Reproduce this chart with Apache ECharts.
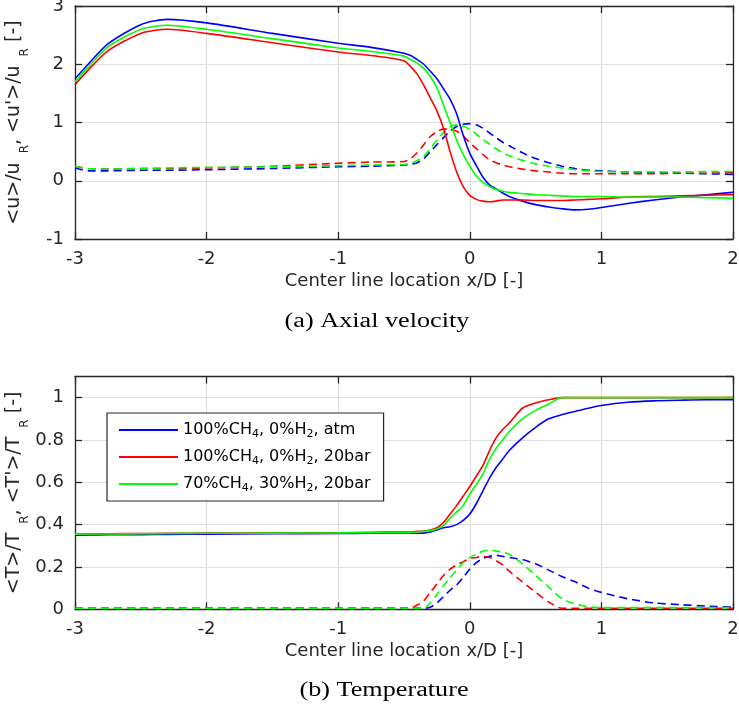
<!DOCTYPE html>
<html>
<head>
<meta charset="utf-8">
<script src="https://cdn.jsdelivr.net/npm/echarts@6/dist/echarts.min.js"></script>
<style>
  html, body { margin: 0; padding: 0; background: #fff; }
  #main { width: 739px; height: 712px; }
</style>
</head>
<body>
<div id="main"></div>
<script>
// x/D positions shared by all curves
const xs = [-3, -2.9, -2.75, -2.5, -2.3, -2, -1.5, -1, -0.75, -0.5, -0.45, -0.4, -0.35, -0.3, -0.25, -0.2, -0.15, -0.1, -0.05, 0,
    0.05, 0.1, 0.15, 0.2, 0.25, 0.3, 0.4, 0.5, 0.6, 0.7, 0.8, 0.9, 1.0, 1.2, 1.4, 1.6, 1.8, 2.0];

// (a) axial velocity, mean <u>/uR
const uMeanAtm = [1.75, 2.0, 2.35, 2.68, 2.77, 2.71, 2.53, 2.36, 2.29, 2.19, 2.15, 2.08, 2.0, 1.88, 1.75, 1.58, 1.40, 1.15, 0.78, 0.47,
    0.26, 0.06, -0.07, -0.14, -0.21, -0.27, -0.35, -0.41, -0.45, -0.48, -0.5, -0.49, -0.46, -0.39, -0.33, -0.28, -0.24, -0.2];
const uMean20 = [1.65, 1.9, 2.23, 2.53, 2.60, 2.53, 2.37, 2.21, 2.15, 2.06, 1.96, 1.83, 1.64, 1.42, 1.2, 0.9, 0.5, 0.15, -0.1, -0.25,
    -0.32, -0.35, -0.36, -0.35, -0.33, -0.33, -0.33, -0.34, -0.34, -0.34, -0.33, -0.32, -0.31, -0.28, -0.27, -0.26, -0.25, -0.24];
const uMeanH2 = [1.70, 1.95, 2.3, 2.6, 2.67, 2.6, 2.44, 2.28, 2.22, 2.14, 2.08, 2.02, 1.93, 1.79, 1.6, 1.3, 1.0, 0.7, 0.45, 0.25,
    0.08, -0.03, -0.1, -0.15, -0.18, -0.2, -0.22, -0.24, -0.25, -0.26, -0.27, -0.27, -0.27, -0.28, -0.28, -0.28, -0.29, -0.3];

// (a) axial velocity, rms <u'>/uR
const uRmsAtm = [0.22, 0.17, 0.17, 0.18, 0.18, 0.19, 0.21, 0.24, 0.25, 0.27, 0.28, 0.31, 0.38, 0.5, 0.62, 0.74, 0.85, 0.93, 0.97, 0.98,
    0.96, 0.9, 0.82, 0.74, 0.66, 0.6, 0.48, 0.38, 0.31, 0.25, 0.21, 0.18, 0.17, 0.15, 0.14, 0.13, 0.12, 0.11];
const uRms20 = [0.25, 0.21, 0.2, 0.21, 0.21, 0.22, 0.25, 0.3, 0.32, 0.33, 0.38, 0.48, 0.62, 0.76, 0.84, 0.89, 0.88, 0.85, 0.77, 0.65,
    0.55, 0.45, 0.36, 0.31, 0.27, 0.24, 0.2, 0.17, 0.15, 0.13, 0.12, 0.12, 0.12, 0.12, 0.12, 0.13, 0.13, 0.14];
const uRmsH2 = [0.25, 0.21, 0.2, 0.21, 0.22, 0.23, 0.24, 0.26, 0.27, 0.28, 0.3, 0.35, 0.42, 0.55, 0.7, 0.83, 0.93, 0.96, 0.94, 0.88,
    0.8, 0.71, 0.63, 0.55, 0.48, 0.43, 0.35, 0.29, 0.25, 0.22, 0.19, 0.17, 0.16, 0.15, 0.15, 0.15, 0.16, 0.16];

// (b) temperature, mean <T>/TR
const tMeanAtm = [0.35, 0.351, 0.352, 0.353, 0.354, 0.355, 0.357, 0.358, 0.359, 0.36, 0.36, 0.36, 0.36, 0.365, 0.375, 0.385, 0.39, 0.40, 0.42, 0.45,
    0.5, 0.56, 0.62, 0.67, 0.71, 0.75, 0.81, 0.86, 0.9, 0.92, 0.935, 0.95, 0.963, 0.978, 0.985, 0.988, 0.99, 0.99];
const tMean20 = [0.355, 0.356, 0.357, 0.358, 0.359, 0.36, 0.361, 0.362, 0.364, 0.365, 0.365, 0.368, 0.37, 0.375, 0.385, 0.41, 0.45, 0.49, 0.535, 0.58,
    0.63, 0.68, 0.75, 0.81, 0.85, 0.88, 0.95, 0.975, 0.99, 1.0, 1.0, 1.0, 1.0, 1.0, 1.0, 1.0, 1.0, 1.0];
const tMeanH2 = [0.355, 0.356, 0.356, 0.357, 0.358, 0.359, 0.36, 0.361, 0.362, 0.362, 0.363, 0.365, 0.368, 0.372, 0.38, 0.395, 0.43, 0.46, 0.49, 0.545,
    0.59, 0.64, 0.71, 0.76, 0.8, 0.84, 0.9, 0.94, 0.97, 1.0, 1.0, 1.0, 1.0, 1.0, 1.0, 1.0, 1.0, 1.0];

// (b) temperature, rms <T'>/TR
const tRmsAtm = [0.005, 0.005, 0.005, 0.005, 0.005, 0.005, 0.005, 0.005, 0.005, 0.005, 0.005, 0.005, 0.005, 0.01, 0.03, 0.06, 0.09, 0.115, 0.15, 0.19,
    0.22, 0.24, 0.25, 0.255, 0.25, 0.245, 0.235, 0.215, 0.185, 0.155, 0.13, 0.1, 0.08, 0.05, 0.03, 0.022, 0.015, 0.01];
const tRms20 = [0.005, 0.005, 0.005, 0.005, 0.005, 0.005, 0.005, 0.005, 0.005, 0.005, 0.005, 0.02, 0.04, 0.08, 0.12, 0.16, 0.19, 0.21, 0.225, 0.24,
    0.245, 0.25, 0.245, 0.23, 0.21, 0.18, 0.13, 0.08, 0.035, 0.005, 0.005, 0.005, 0.005, 0.005, 0.005, 0.005, 0.005, 0.005];
const tRmsH2 = [0.005, 0.005, 0.005, 0.005, 0.005, 0.005, 0.005, 0.005, 0.005, 0.005, 0.005, 0.005, 0.005, 0.03, 0.07, 0.11, 0.15, 0.185, 0.22, 0.245,
    0.26, 0.275, 0.28, 0.275, 0.27, 0.26, 0.215, 0.16, 0.105, 0.05, 0.025, 0.012, 0.008, 0.008, 0.008, 0.008, 0.008, 0.008];

const caseNames = ['100%CH4, 0%H2, atm', '100%CH4, 0%H2, 20bar', '70%CH4, 30%H2, 20bar'];
const caseColors = ['#0000ff', '#ff0000', '#00ff00'];

const axisColor = '#262626';
const sansFont = 'DejaVu Sans';

const pairs = (ys) => xs.map((x, i) => [x, ys[i]]);

// one line series
const makeSeries = (name, ys, color, dashed, gridIdx) => ({
    name: name,
    type: 'line',
    xAxisIndex: gridIdx * 2,
    yAxisIndex: gridIdx * 2,
    data: pairs(ys),
    symbol: 'none',
    showSymbol: false,
    smooth: 0.25,
    lineStyle: { color: color, width: 1.6, type: dashed ? [8, 5] : 'solid' },
    itemStyle: { color: color },
    z: dashed ? 2 : 3
});

// bottom/left axes with labels, top/right axes only for the box and ticks
const makeXAxes = (gridIdx) => [
    {
        gridIndex: gridIdx, type: 'value', min: -3, max: 2, interval: 1, position: 'bottom',
        name: 'Center line location x/D [-]', nameLocation: 'middle', nameGap: 33, nameMoveOverlap: false,
        nameTextStyle: { fontFamily: sansFont, fontSize: 18, color: axisColor },
        axisLine: { onZero: false, lineStyle: { color: axisColor, width: 1.3 } },
        axisTick: { inside: true, length: 7, lineStyle: { color: axisColor, width: 1.3 } },
        axisLabel: { margin: 11, fontFamily: sansFont, fontSize: 18, color: axisColor },
        splitLine: { show: true, lineStyle: { color: '#dedede', width: 1.2 } }
    },
    {
        gridIndex: gridIdx, type: 'value', min: -3, max: 2, interval: 1, position: 'top',
        axisLine: { onZero: false, lineStyle: { color: axisColor, width: 1.3 } },
        axisTick: { inside: true, length: 7, lineStyle: { color: axisColor, width: 1.3 } },
        axisLabel: { show: false },
        splitLine: { show: false }
    }
];

const makeYAxes = (gridIdx, min, max, interval, nameRich) => [
    {
        gridIndex: gridIdx, type: 'value', min: min, max: max, interval: interval, position: 'left',
        name: nameRich, nameLocation: 'middle', nameRotate: 90, nameGap: 44, nameMoveOverlap: false,
        nameTextStyle: {
            rich: {
                a: { fontFamily: sansFont, fontSize: 19, color: axisColor },
                s: { fontFamily: sansFont, fontSize: 12, color: axisColor, padding: [22, 0, 0, 9] }
            }
        },
        axisLine: { onZero: false, lineStyle: { color: axisColor, width: 1.3 } },
        axisTick: { inside: true, length: 7, lineStyle: { color: axisColor, width: 1.3 } },
        axisLabel: { margin: 11, fontFamily: sansFont, fontSize: 18, color: axisColor, showMaxLabel: max === 3 },
        splitLine: { show: true, lineStyle: { color: '#dedede', width: 1.2 } }
    },
    {
        gridIndex: gridIdx, type: 'value', min: min, max: max, interval: interval, position: 'right',
        axisLine: { onZero: false, lineStyle: { color: axisColor, width: 1.3 } },
        axisTick: { inside: true, length: 7, lineStyle: { color: axisColor, width: 1.3 } },
        axisLabel: { show: false },
        splitLine: { show: false }
    }
];

const topCurves = [[uMeanAtm, uRmsAtm], [uMean20, uRms20], [uMeanH2, uRmsH2]];
const botCurves = [[tMeanAtm, tRmsAtm], [tMean20, tRms20], [tMeanH2, tRmsH2]];

const series = [];
[topCurves, botCurves].forEach((curves, g) => {
    curves.forEach((c, i) => {
        series.push(makeSeries(caseNames[i], c[0], caseColors[i], false, g));
    });
    curves.forEach((c, i) => {
        series.push(makeSeries(caseNames[i] + ' rms', c[1], caseColors[i], true, g));
    });
});

const myChart = echarts.init(document.getElementById('main'), null, { renderer: 'canvas' });

const option = {
    backgroundColor: '#ffffff',
    animation: false,
    grid: [
        { left: 75, top: 6, width: 658, height: 233, outerBoundsMode: 'none', containLabel: false },
        { left: 75, top: 376.5, width: 658, height: 232.8, outerBoundsMode: 'none', containLabel: false }
    ],
    xAxis: [...makeXAxes(0), ...makeXAxes(1)],
    yAxis: [
        ...makeYAxes(0, -1, 3, 1, '{a|<u>/u}{s|R}{a|, <u\'>/u}{s|R}{a| [-]}'),
        ...makeYAxes(1, 0, 1.1, 0.2, '{a|<T>/T}{s|R}{a|, <T\'>/T}{s|R}{a| [-]}')
    ],
    legend: {
        data: caseNames,
        orient: 'vertical',
        left: 107,
        top: 413,
        padding: [7, 13, 7, 11],
        itemGap: 7,
        itemWidth: 59,
        itemHeight: 14,
        itemStyle: { opacity: 0 },
        backgroundColor: '#ffffff',
        borderColor: axisColor,
        borderWidth: 1.2,
        textStyle: {
            fontFamily: sansFont, fontSize: 16, color: '#000', lineHeight: 20,
            rich: { sub: { fontFamily: sansFont, fontSize: 11, color: '#000', padding: [8, 0, 0, 0] } }
        },
        formatter: (name) => name.replace('CH4', 'CH{sub|4}').replace('H2', 'H{sub|2}')
    },
    graphic: [
        {
            type: 'text', x: 377, y: 322, scaleX: 1.31,
            style: { text: '(a) Axial velocity', fontFamily: 'Liberation Serif', fontSize: 20, fill: '#000', align: 'center', verticalAlign: 'middle' }
        },
        {
            type: 'text', x: 384, y: 691, scaleX: 1.31,
            style: { text: '(b) Temperature', fontFamily: 'Liberation Serif', fontSize: 20, fill: '#000', align: 'center', verticalAlign: 'middle' }
        }
    ],
    series: series
};

myChart.setOption(option);
</script>
</body>
</html>
